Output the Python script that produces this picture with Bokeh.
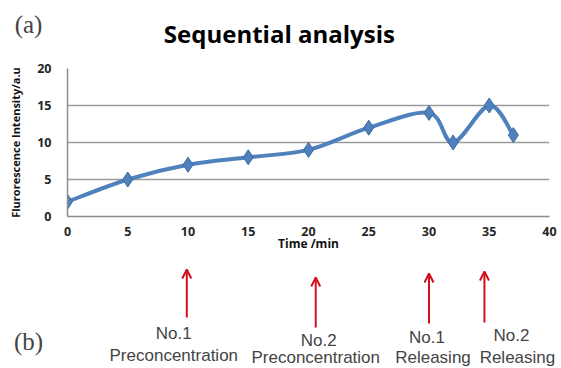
from bokeh.plotting import figure
from bokeh.models import Range1d, Label, Arrow, OpenHead, FixedTicker
from bokeh.layouts import column
from bokeh.embed import file_html
from bokeh.resources import INLINE

# ---- data ----
time_min = [0, 5, 10, 15, 20, 25, 30, 32, 35, 37]
intensity = [2, 5, 7, 8, 9, 12, 14, 10, 15, 11]
x_ticks = [0, 5, 10, 15, 20, 25, 30, 35, 40]
y_ticks = [0, 5, 10, 15, 20]
event_times = [9.9, 20.6, 30.0, 34.6]
event_line1 = ["No.1", "No.2", "No.1", "No.2"]
event_line2 = ["Preconcentration", "Preconcentration", "Releasing", "Releasing"]

BLUE = "#4F81BD"
RED = "#d0101c"
W = 561
FL, FR = 67, 549  # frame left/right in page px
TOP_H = 60
MAIN_TOP, MAIN_FRAME, MAIN_BOTTOM = 8, 148, 51


def blank(h, yr):
    f = figure(width=W, height=h, output_backend="svg", toolbar_location=None,
               x_range=Range1d(0, W), y_range=yr, x_axis_type=None, y_axis_type=None,
               min_border_left=0, min_border_right=0, min_border_top=0, min_border_bottom=0)
    f.frame_align = False
    f.outline_line_color = None
    f.xgrid.visible = False
    f.ygrid.visible = False
    return f


# ---- top strip: panel label and title (page px coords) ----
top = blank(TOP_H, Range1d(TOP_H, 0))
top.add_layout(Label(x=28, y=24, text="(a)", text_font="Liberation Serif",
                     text_font_size="25px", text_align="center", text_baseline="middle"))
top.add_layout(Label(x=282, y=33, text="Sequential  analysis", text_font="Open Sans",
                     text_font_style="bold", text_font_size="24px", text_align="center",
                     text_baseline="middle", text_color="black"))

# ---- main chart ----
p = figure(width=W, height=MAIN_TOP + MAIN_FRAME + MAIN_BOTTOM, output_backend="svg",
           toolbar_location=None, x_range=Range1d(0, 40), y_range=Range1d(0, 20),
           min_border_left=FL, min_border_right=W - FR,
           min_border_top=MAIN_TOP, min_border_bottom=MAIN_BOTTOM)
p.outline_line_color = None

# smooth line through the data points (Catmull-Rom -> cubic bezier)
n = len(time_min)
x0s, y0s, x1s, y1s, cx0s, cy0s, cx1s, cy1s = [], [], [], [], [], [], [], []
t = 1 / 6
for i in range(n - 1):
    xa, ya = time_min[i], intensity[i]
    xb, yb = time_min[i + 1], intensity[i + 1]
    xp, yp = (time_min[i - 1], intensity[i - 1]) if i > 0 else (xa, ya)
    xn, yn = (time_min[i + 2], intensity[i + 2]) if i + 2 < n else (xb, yb)
    x0s.append(xa); y0s.append(ya); x1s.append(xb); y1s.append(yb)
    cx0s.append(xa + (xb - xp) * t); cy0s.append(ya + (yb - yp) * t)
    cx1s.append(xb - (xn - xa) * t); cy1s.append(yb - (yn - ya) * t)
p.bezier(x0=x0s, y0=y0s, x1=x1s, y1=y1s, cx0=cx0s, cy0=cy0s, cx1=cx1s, cy1=cy1s,
         line_color=BLUE, line_width=4)
p.scatter(time_min, intensity, marker="diamond", size=15, fill_color=BLUE,
          line_color="#3B6BA5", line_width=1)

for ax in (p.xaxis[0], p.yaxis[0]):
    ax.major_tick_line_color = None
    ax.minor_tick_line_color = None
    ax.major_tick_out = 0
    ax.major_tick_in = 0
    ax.minor_tick_out = 0
    ax.minor_tick_in = 0
    ax.axis_line_color = "#8c8c8c"
    ax.axis_line_width = 1.5
    ax.major_label_text_font = "Open Sans"
    ax.major_label_text_font_style = "bold"
    ax.major_label_text_font_size = "12.5px"
    ax.major_label_text_color = "#262626"
    ax.axis_label_text_font = "Open Sans"
    ax.axis_label_text_font_style = "bold"
    ax.axis_label_text_color = "#111111"
p.xaxis.ticker = FixedTicker(ticks=x_ticks)
p.yaxis.ticker = FixedTicker(ticks=y_ticks)
p.xaxis.major_label_standoff = 10
p.yaxis.major_label_standoff = 16
p.xaxis.axis_label = "Time /min"
p.yaxis.axis_label = "Flurorescence Intensity/a.u"
p.xaxis.axis_label_text_font_size = "12px"
p.yaxis.axis_label_text_font_size = "11px"
p.xaxis.axis_label_standoff = -4
p.yaxis.axis_label_standoff = 11

p.xgrid.grid_line_color = None
p.ygrid.ticker = FixedTicker(ticks=y_ticks[1:])
p.ygrid.grid_line_color = "#9a9a9a"
p.ygrid.grid_line_width = 1.5

# ---- bottom strip: events (page px coords, y measured from page top) ----
Y0 = TOP_H + MAIN_TOP + MAIN_FRAME + MAIN_BOTTOM
bot = blank(368 - Y0, Range1d(368, Y0))


def time_to_px(tm):
    return FL + tm * (FR - FL) / 40


bot.add_layout(Label(x=28, y=341, text="(b)", text_font="Liberation Serif",
                     text_font_size="25px", text_align="center", text_baseline="middle"))
tips = [269, 277, 273, 271]
tails = [317, 327, 323, 322]
l1y = [333, 340, 337, 335]
l2y = [355, 357, 357, 357]
l1x_off = [-13, 3, -2, 27]
l2x_off = [-13, 0, 4, 33]
for i, tm in enumerate(event_times):
    sx = time_to_px(tm)
    bot.add_layout(Arrow(x_start=sx, y_start=tails[i], x_end=sx, y_end=tips[i],
                         line_color=RED, line_width=2,
                         end=OpenHead(size=9, line_color=RED, line_width=2)))
    bot.add_layout(Label(x=sx + l1x_off[i], y=l1y[i], text=event_line1[i],
                         text_font="Liberation Sans", text_font_size="17px",
                         text_align="center", text_baseline="middle"))
    bot.add_layout(Label(x=sx + l2x_off[i], y=l2y[i], text=event_line2[i],
                         text_font="Liberation Sans", text_font_size="17px",
                         text_align="center", text_baseline="middle"))

layout = column(top, p, bot, spacing=0)
open("out.html", "w").write(file_html(layout, INLINE))
